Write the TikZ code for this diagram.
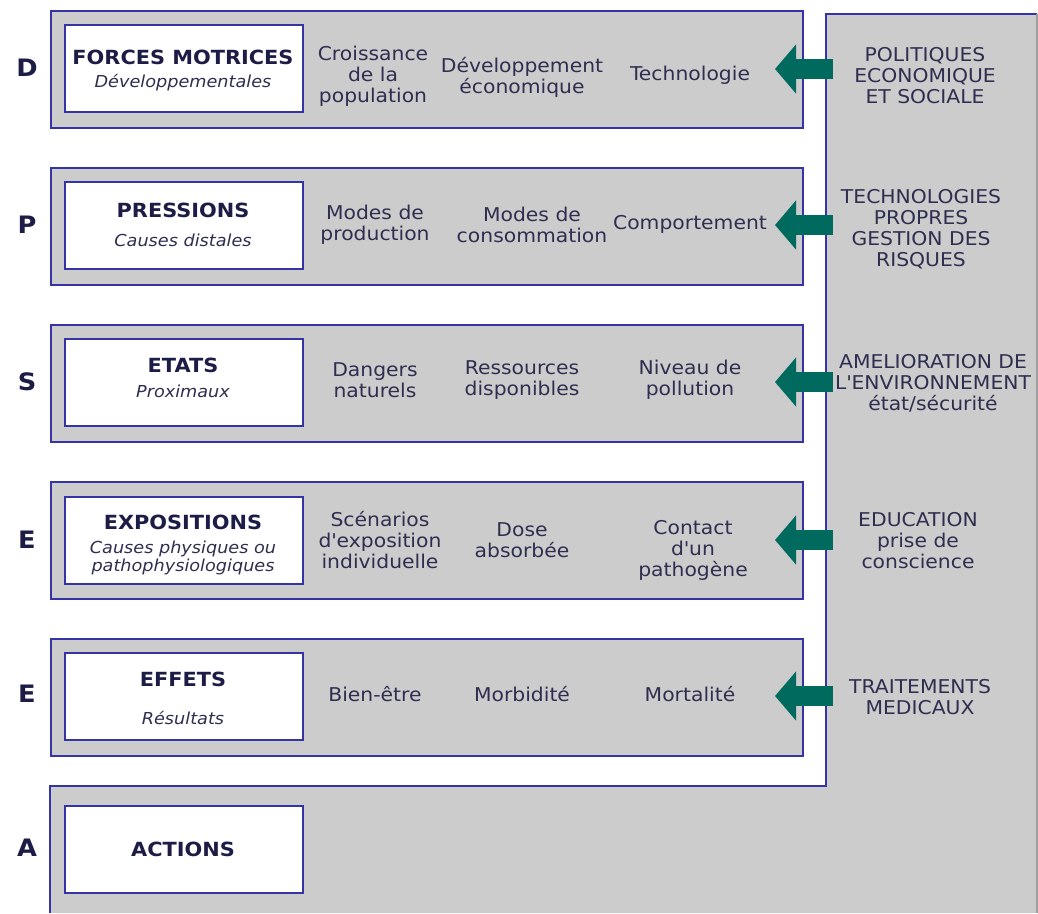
\documentclass[tikz,border=0pt]{standalone}
\usepackage{fontspec}
\setmainfont{DejaVu Sans}[FakeStretch=1.07]
\usetikzlibrary{arrows.meta}

\definecolor{bandgray}{HTML}{CCCCCC}
\definecolor{edgeblue}{HTML}{3434A6}
\definecolor{inktext}{HTML}{2E2E50}
\definecolor{inkdark}{HTML}{1C1C46}
\definecolor{arrowteal}{HTML}{006A5E}

\newcommand\bandfont{\fontsize{19}{21}\selectfont}
\newcommand\titlefont{\fontsize{19.5}{22}\selectfont\bfseries}
\newcommand\subfont{\fontsize{16.5}{18}\selectfont\itshape}
\newcommand\letterfont{\fontsize{24}{26}\selectfont\bfseries}
\newcommand\apos{\textquotesingle}

\begin{document}
\begin{tikzpicture}[x=1pt,y=-1pt,
  band/.style={draw=edgeblue, line width=2pt, fill=bandgray, inner sep=0pt,
    minimum width=752pt, minimum height=117pt, anchor=north west},
  titlebox/.style={draw=edgeblue, line width=2pt, fill=white, inner sep=0pt,
    minimum width=238pt, minimum height=87pt, anchor=north west},
  ttl/.style={font=\titlefont, text=inkdark, inner sep=0pt},
  sub/.style={font=\subfont, text=inktext, inner sep=0pt, align=center},
  item/.style={font=\bandfont, text=inktext, inner sep=0pt, align=center},
  policy/.style={font=\bandfont, text=inktext, inner sep=0pt, align=center},
  letter/.style={font=\letterfont, text=inkdark, inner sep=0pt},
  push/.style={draw=arrowteal, line width=20pt,
    -{Triangle[length=21pt,width=48pt]}},
]
\useasboundingbox (0,0) rectangle (1038,913);

% L-shaped actions panel: right column plus bottom strip
\fill[bandgray] (50,913) -- (50,786) -- (826,786) -- (826,14) -- (1037,14) -- (1037,913) -- cycle;
\draw[edgeblue, line width=2pt] (50,913) -- (50,786) -- (826,786) -- (826,14) -- (1037,14);
\draw[gray!75, line width=1.5pt] (1037,14) -- (1037,913);

% five DPSEE bands
\node[band] (bD) at (50,10) {};
\node[band] (bP) at (50,167) {};
\node[band] (bS) at (50,324) {};
\node[band] (bE) at (50,481) {};
\node[band] (bF) at (50,638) {};

% white title boxes
\node[titlebox] (wD) at (64,24) {};
\node[titlebox] (wP) at (64,181) {};
\node[titlebox] (wS) at (64,338) {};
\node[titlebox] (wE) at (64,496) {};
\node[titlebox] (wF) at (64,652) {};
\node[titlebox] (wA) at (64,805) {};

% row letters
\node[letter] (lD) at (27,68) {D};
\node[letter] (lP) at (27,225) {P};
\node[letter] (lS) at (27,382) {S};
\node[letter] (lE) at (27,540) {E};
\node[letter] (lF) at (27,694) {E};
\node[letter] (lA) at (27,848) {A};

% titles and subtitles
\node[ttl] (tD) at (183,57) {FORCES MOTRICES};
\node[sub] (sD) at (183,83) {Développementales};
\node[ttl] (tP) at (183,210) {PRESSIONS};
\node[sub] (sP) at (183,240) {Causes distales};
\node[ttl] (tS) at (183,365) {ETATS};
\node[sub] (sS) at (183,391) {Proximaux};
\node[ttl] (tE) at (183,522) {EXPOSITIONS};
\node[sub] (sE) at (183,558) {Causes physiques ou\\pathophysiologiques};
\node[ttl] (tF) at (183,679) {EFFETS};
\node[sub] (sF) at (183,718) {Résultats};
\node[ttl] (tA) at (183,849) {ACTIONS};

% band contents
\node[item] (d1) at (373,76) {Croissance\\de la\\population};
\node[item] (d2) at (522,77) {Développement\\économique};
\node[item] (d3) at (690,75) {Technologie};

\node[item] (p1) at (375,225) {Modes de\\production};
\node[item] (p2) at (532,225) {Modes de\\consommation};
\node[item] (p3) at (690,224) {Comportement};

\node[item] (s1) at (375,380) {Dangers\\naturels};
\node[item] (s2) at (522,380) {Ressources\\disponibles};
\node[item] (s3) at (690,380) {Niveau de\\pollution};

\node[item] (e1) at (380,540) {Scénarios\\d\apos exposition\\individuelle};
\node[item] (e2) at (522,540) {Dose\\absorbée};
\node[item] (e3) at (693,550) {Contact\\d\apos un\\pathogène};

\node[item] (f1) at (375,694) {Bien-être};
\node[item] (f2) at (522,694) {Morbidité};
\node[item] (f3) at (690,694) {Mortalité};

% policy responses in the right column
\node[policy] (rD) at (925,76) {POLITIQUES\\ECONOMIQUE\\ET SOCIALE};
\node[policy] (rP) at (921,229) {TECHNOLOGIES\\PROPRES\\GESTION DES\\RISQUES};
\node[policy] (rS) at (933,383) {AMELIORATION DE\\L\apos ENVIRONNEMENT\\état/sécurité};
\node[policy] (rE) at (918,541) {EDUCATION\\prise de\\conscience};
\node[policy] (rF) at (920,697) {TRAITEMENTS\\MEDICAUX};

% arrow anchors on the column edge
\coordinate (cD) at (833,69);
\coordinate (cP) at (833,225);
\coordinate (cS) at (833,382);
\coordinate (cE) at (833,540);
\coordinate (cF) at (833,696);

% teal block arrows from column to bands
\draw[push] (cD) -- ([xshift=-29pt]bD.east |- cD);
\draw[push] (cP) -- ([xshift=-29pt]bP.east |- cP);
\draw[push] (cS) -- ([xshift=-29pt]bS.east |- cS);
\draw[push] (cE) -- ([xshift=-29pt]bE.east |- cE);
\draw[push] (cF) -- ([xshift=-29pt]bF.east |- cF);
\end{tikzpicture}
\end{document}
